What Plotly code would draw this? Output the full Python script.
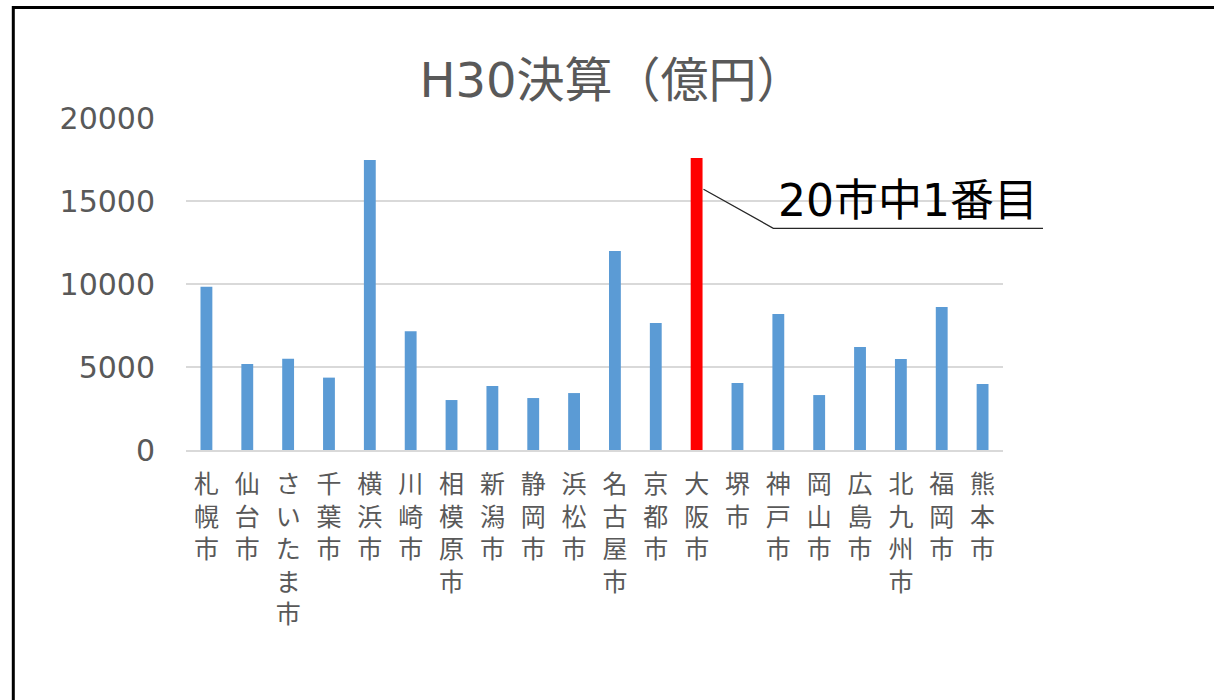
import plotly.graph_objects as go

cities = ["札幌市", "仙台市", "さいたま市", "千葉市", "横浜市", "川崎市", "相模原市", "新潟市",
          "静岡市", "浜松市", "名古屋市", "京都市", "大阪市", "堺市", "神戸市", "岡山市",
          "広島市", "北九州市", "福岡市", "熊本市"]
values = [9840, 5180, 5500, 4360, 17470, 7150, 3010, 3860,
          3130, 3430, 11990, 7650, 17590, 4040, 8190, 3310,
          6210, 5480, 8610, 3980]
highlight = "大阪市"
y_ticks = [0, 5000, 10000, 15000, 20000]
title_text = "H30決算（億円）"
note_text = "20市中1番目"

W, H = 1214, 700
L, R, T, B = 186, 1003, 118, 450

def px(x):
    return (x - L) / (R - L)

def py(y):
    return (B - y) / (B - T)

colors = ["#FF0000" if c == highlight else "#5B9BD5" for c in cities]
ticktext = ["<br>".join(list(c)) for c in cities]

fig = go.Figure(go.Bar(x=cities, y=values, marker=dict(color=colors, line=dict(width=0))))

fig.update_layout(
    width=W, height=H,
    margin=dict(l=L, r=W - R, t=T, b=H - B),
    paper_bgcolor="white", plot_bgcolor="white",
    bargap=0.71,
    showlegend=False,
    font=dict(family="DejaVu Sans, Noto Sans CJK JP", color="#595959"),
    title=dict(text=title_text, x=612 / W, xanchor="center",
               y=1 - 80 / H, yanchor="middle",
               font=dict(size=48, color="#595959", family="DejaVu Sans, Noto Sans CJK JP")),
)
fig.update_xaxes(tickmode="array", tickvals=cities, ticktext=ticktext,
                 tickfont=dict(size=25, color="#595959", family="Noto Sans CJK JP"),
                 showgrid=False, showline=True, linecolor="#D9D9D9", linewidth=2,
                 ticks="", ticklabelstandoff=11, tickangle=0)
fig.update_yaxes(range=[0, 20000], tickvals=y_ticks, ticktext=[str(v) for v in y_ticks],
                 tickfont=dict(size=30, color="#595959", family="DejaVu Sans"),
                 showgrid=True, gridcolor="#D9D9D9", gridwidth=2, zeroline=False,
                 showline=False, ticks="", ticklabelstandoff=30)

# frame
fig.add_shape(type="path", xref="paper", yref="paper",
              path=f"M {px(1230)} {py(7.5)} L {px(13.3)} {py(7.5)} L {px(13.3)} {py(720)}",
              line=dict(color="black", width=3))
# leader line and underline
fig.add_shape(type="path", xref="paper", yref="paper",
              path=f"M {px(703.5)} {py(189.3)} L {px(773.3)} {py(228.3)} L {px(1043)} {py(228.3)}",
              line=dict(color="#262626", width=1.3))
fig.add_annotation(text=note_text, xref="paper", yref="paper", x=px(776), y=py(228),
                   xanchor="left", yanchor="bottom", showarrow=False,
                   font=dict(size=44, color="black", family="DejaVu Sans, Noto Sans CJK JP"))

fig.write_html("out.html", config={"displayModeBar": False},
               post_script="document.body.style.margin='0';document.body.style.overflow='hidden';")
